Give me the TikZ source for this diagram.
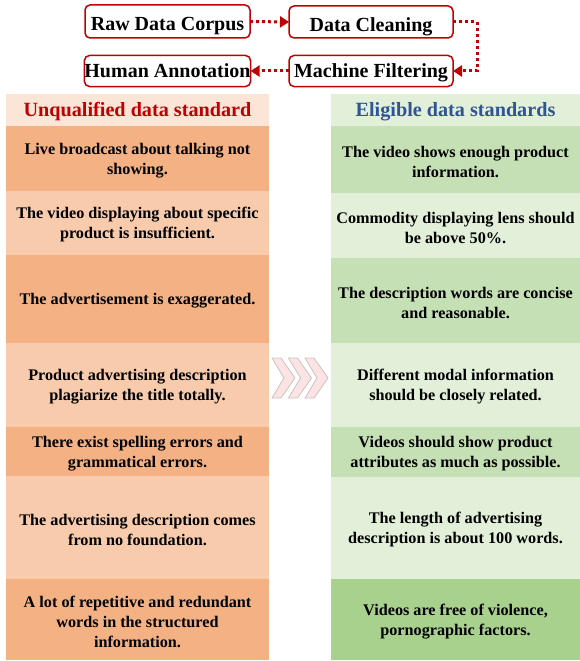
\documentclass[tikz,border=0pt]{standalone}
\usepackage{fontspec}
\setmainfont{Liberation Serif}
\usetikzlibrary{arrows.meta}

\definecolor{darkred}{HTML}{C00000}
\definecolor{headblue}{HTML}{2F5597}
\definecolor{peachhead}{HTML}{FBE5D6}
\definecolor{peachdark}{HTML}{F4B183}
\definecolor{peachlight}{HTML}{F8CBAD}
\definecolor{greenhead}{HTML}{E2F0D9}
\definecolor{greenmid}{HTML}{C5E0B4}
\definecolor{greenlight}{HTML}{E2F0D9}
\definecolor{greendark}{HTML}{A9D18E}
\definecolor{chevfill}{HTML}{FDE3E3}
\definecolor{chevline}{HTML}{C9C3C3}

% one table cell: background box plus its centred text
% #1 name, #2 box style, #3 fill, #4 x, #5 y, #6 height, #7 text
\newcommand\gridcell[7]{%
  \node[#2, fill=#3, minimum height=#6pt] (#1) at (#4,#5) {};
  \node[celltext] (#1-text) at ([yshift=-2pt]#1.center) {#7};}

\begin{document}
\begin{tikzpicture}[x=1pt,y=-1pt,
  stagebox/.style={draw=darkred, line width=1.5pt, rounded corners=5pt, fill=white,
    inner sep=0pt, outer sep=0pt, text height=13.3pt, text depth=0pt,
    font=\fontsize{20}{22}\selectfont\bfseries},
  lowtext/.style={text height=19pt},
  flow/.style={draw=darkred, line width=3pt, dash pattern=on 3pt off 3pt,
    -{Triangle[length=9pt,width=11pt]}},
  cellbox/.style={rectangle, inner sep=0pt, outer sep=0pt},
  lcell/.style={cellbox, minimum width=263pt},
  rcell/.style={cellbox, minimum width=249pt},
  celltext/.style={inner sep=0pt, align=center,
    font=\fontsize{16.2}{20}\selectfont\bfseries},
  headtext/.style={inner sep=0pt, text height=13.3pt, text depth=0pt,
    font=\fontsize{20.2}{22}\selectfont\bfseries}
]
\useasboundingbox (0,0) rectangle (580,661);

% pipeline stages
\node[stagebox, lowtext, minimum width=165pt, minimum height=33pt] (raw)   at (167.5,21.5) {Raw Data Corpus};
\node[stagebox, lowtext, minimum width=164pt, minimum height=32pt] (clean) at (371,22)     {Data Cleaning};
\node[stagebox, minimum width=165pt, minimum height=31pt] (human) at (167.5,71) {Human Annotation};
\node[stagebox, minimum width=164pt, minimum height=31pt] (filt)  at (371,71)   {Machine Filtering};

\draw[flow] (raw.east) -- (clean.west);
\draw[flow] (clean.east) -- ++(24,0) |- (filt.east);
\draw[flow] (filt.west) -- (human.east);

% left column: unqualified data
\node[lcell, fill=peachhead, minimum height=32pt] (lh) at (137.5,110) {};
\node[headtext, text=darkred] (lh-text) at (lh.center) {Unqualified data standard};
\gridcell{l1}{lcell}{peachdark} {137.5}{158.5}{65} {Live broadcast about talking not\\showing.}
\gridcell{l2}{lcell}{peachlight}{137.5}{223}  {64} {The video displaying about specific\\product is insufficient.}
\gridcell{l3}{lcell}{peachdark} {137.5}{299}  {88} {The advertisement is exaggerated.}
\gridcell{l4}{lcell}{peachlight}{137.5}{385}  {84} {Product advertising description\\plagiarize the title totally.}
\gridcell{l5}{lcell}{peachdark} {137.5}{451.5}{49} {There exist spelling errors and\\grammatical errors.}
\gridcell{l6}{lcell}{peachlight}{137.5}{527.5}{103}{The advertising description comes\\from no foundation.}
\gridcell{l7}{lcell}{peachdark} {137.5}{619.5}{81} {A lot of repetitive and redundant\\words in the structured\\information.}

% right column: eligible data
\node[rcell, fill=greenhead, minimum height=32pt] (rh) at (455.5,110) {};
\node[headtext, text=headblue] (rh-text) at (rh.center) {Eligible data standards};
\gridcell{r1}{rcell}{greenmid}  {455.5}{159.5}{67} {The video shows enough product\\information.}
\gridcell{r2}{rcell}{greenlight}{455.5}{225.5}{65} {Commodity displaying lens should\\be above 50\%.}
\gridcell{r3}{rcell}{greenmid}  {455.5}{300.5}{85} {The description words are concise\\and reasonable.}
\gridcell{r4}{rcell}{greenlight}{455.5}{385}  {84} {Different modal information\\should be closely related.}
\gridcell{r5}{rcell}{greenmid}  {455.5}{452}  {50} {Videos should show product\\attributes as much as possible.}
\gridcell{r6}{rcell}{greenlight}{455.5}{528}  {102}{The length of advertising\\description is about 100 words.}
\gridcell{r7}{rcell}{greendark} {455.5}{619.5}{81} {Videos are free of violence,\\pornographic factors.}

% chevrons between the columns
\foreach \dx in {0,16.5,33}{
  \draw[fill=chevfill, draw=chevline, line width=0.8pt, line join=miter]
    (272+\dx,358) -- (281+\dx,358) -- (295+\dx,378) -- (281+\dx,398)
    -- (272+\dx,398) -- (284+\dx,378) -- cycle;
}
\end{tikzpicture}
\end{document}
